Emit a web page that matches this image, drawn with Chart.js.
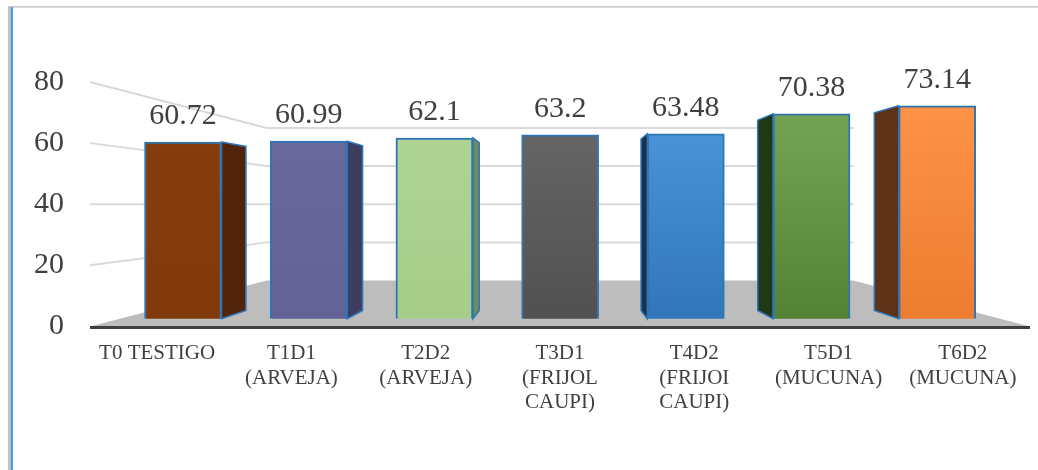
<!DOCTYPE html>
<html>
<head>
<meta charset="utf-8">
<script src="https://cdn.jsdelivr.net/npm/chart.js@4.4.1/dist/chart.umd.min.js"></script>
<style>
  html, body { margin: 0; padding: 0; background: #ffffff; }
  #wrap { position: relative; width: 1038px; height: 470px; }
</style>
</head>
<body>
<div id="wrap"><canvas id="c" width="1038" height="470"></canvas></div>
<script>
// ---- data ----
const categories = [
  "T0 TESTIGO",
  ["T1D1", "(ARVEJA)"],
  ["T2D2", "(ARVEJA)"],
  ["T3D1", "(FRIJOL", "CAUPI)"],
  ["T4D2", "(FRIJOI", "CAUPI)"],
  ["T5D1", "(MUCUNA)"],
  ["T6D2", "(MUCUNA)"]
];
const values = [60.72, 60.99, 62.1, 63.2, 63.48, 70.38, 73.14];
const yTickValues = [0, 20, 40, 60, 80];

// ---- styles ----
const frontTop    = ["#853d0d", "#6a6a9e", "#afd594", "#676767", "#4f95db", "#74a453", "#fb9246"];
const frontBottom = ["#803a0b", "#626294", "#a5cd89", "#505050", "#2f75b8", "#538134", "#ec7b2f"];
const sideColors  = ["#52250a", "#3d3d60", "#6f8b5b", "#333333", "#17324d", "#213815", "#5e3217"];
const outline = "#2e75b6";
const VP_INDEX = 3;      // bar index at the vanishing point (x)
const VP_VALUE = 40;     // tick value at the vanishing point (y)
const SIDE_DEPTH = 0.072;
const FLOOR_DEPTH = 0.376;

const frame = {
  id: 'frame',
  beforeDraw(chart) {
    const ctx = chart.ctx;
    ctx.save();
    ctx.fillStyle = '#c6c9ce';
    ctx.fillRect(8, 6, 1030, 1.6);
    ctx.fillStyle = '#c4c4c4';
    ctx.fillRect(8, 6, 2.5, 464);
    ctx.fillStyle = '#5b9bd5';
    ctx.fillRect(10.5, 7, 2.5, 463);
    ctx.restore();
  }
};

const scene3d = {
  id: 'scene3d',
  beforeDatasetsDraw(chart) {
    const ctx = chart.ctx;
    const a = chart.chartArea;
    const yT = chart.scales.y;
    const xb = chart.scales.xb;
    const vpx = xb.getPixelForValue(VP_INDEX);
    const vpy = yT.getPixelForValue(VP_VALUE);
    const L = a.left, R = a.right;
    const backL = L + FLOOR_DEPTH * (vpx - L);
    const backR = R + FLOOR_DEPTH * (vpx - R);
    ctx.save();
    // floor
    const y0 = yT.getPixelForValue(0);
    const y0b = y0 + FLOOR_DEPTH * (vpy - y0);
    ctx.fillStyle = '#bdbdbd';
    ctx.beginPath();
    ctx.moveTo(L, y0);
    ctx.lineTo(backL, y0b);
    ctx.lineTo(backR, y0b);
    ctx.lineTo(R, y0);
    ctx.closePath();
    ctx.fill();
    // walls gridlines
    ctx.strokeStyle = '#d9d9d9';
    ctx.lineWidth = 2;
    yTickValues.forEach(v => {
      if (v === 0) return;
      const yf = yT.getPixelForValue(v);
      const yb = yf + FLOOR_DEPTH * (vpy - yf);
      ctx.beginPath();
      ctx.moveTo(L, yf);
      ctx.lineTo(backL, yb);
      ctx.lineTo(backR, yb);
      ctx.stroke();
    });
    // bar side faces
    const meta = chart.getDatasetMeta(0);
    meta.data.forEach((bar, i) => {
      const p = bar.getProps(['x', 'y', 'base', 'width'], true);
      const x1 = p.x - p.width / 2, x2 = p.x + p.width / 2;
      let ex;
      if (x2 < vpx) ex = x2; else if (x1 > vpx) ex = x1; else return;
      const top = p.y, bot = p.base;
      const bx = ex + SIDE_DEPTH * (vpx - ex);
      const bt = top + SIDE_DEPTH * (vpy - top);
      const bb = bot + SIDE_DEPTH * (vpy - bot);
      ctx.fillStyle = sideColors[i];
      ctx.strokeStyle = outline;
      ctx.lineWidth = 1.5;
      ctx.beginPath();
      ctx.moveTo(ex, top);
      ctx.lineTo(bx, bt);
      ctx.lineTo(bx, bb);
      ctx.lineTo(ex, bot);
      ctx.closePath();
      ctx.fill();
      ctx.stroke();
    });
    ctx.restore();
  },
  afterDatasetsDraw(chart) {
    const ctx = chart.ctx;
    const a = chart.chartArea;
    const yT = chart.scales.y;
    ctx.save();
    // axis line
    const y0 = yT.getPixelForValue(0);
    ctx.strokeStyle = '#404040';
    ctx.lineWidth = 3;
    ctx.beginPath();
    ctx.moveTo(a.left, y0 + 1);
    ctx.lineTo(a.right, y0 + 1);
    ctx.stroke();
    // value labels
    ctx.fillStyle = '#404040';
    ctx.font = '30px "Liberation Serif", "Times New Roman", serif';
    ctx.textAlign = 'center';
    ctx.textBaseline = 'alphabetic';
    const meta = chart.getDatasetMeta(0);
    meta.data.forEach((bar, i) => {
      const p = bar.getProps(['x', 'y'], true);
      ctx.fillText(String(values[i]), p.x, p.y - 18);
    });
    ctx.restore();
  }
};

function frontFill(c) {
  const i = c.dataIndex;
  const chart = c.chart;
  const a = chart.chartArea;
  if (!a || i === undefined) return frontTop[i || 0];
  const g = chart.ctx.createLinearGradient(0, a.top + 30, 0, a.bottom);
  g.addColorStop(0, frontTop[i]);
  g.addColorStop(1, frontBottom[i]);
  return g;
}

new Chart(document.getElementById('c'), {
  type: 'bar',
  data: {
    labels: categories,
    datasets: [{
      data: values.map((v, i) => ({ x: i, y: v })),
      xAxisID: 'xb',
      yAxisID: 'yb',
      backgroundColor: frontFill,
      borderColor: outline,
      borderWidth: 2,
      barThickness: 77
    }]
  },
  options: {
    responsive: false,
    animation: false,
    events: [],
    layout: { padding: { left: 8, right: 8, top: 82, bottom: 40 } },
    plugins: { legend: { display: false }, tooltip: { enabled: false } },
    scales: {
      x: {
        type: 'category',
        position: 'bottom',
        offset: true,
        grid: { display: false, drawTicks: false },
        border: { display: false },
        ticks: {
          color: '#404040',
          padding: 15,
          maxRotation: 0,
          autoSkip: false,
          font: { family: '"Liberation Serif", "Times New Roman", serif', size: 21, lineHeight: 1.167 }
        }
      },
      xb: {
        type: 'linear',
        display: false,
        offset: false,
        min: -0.74,
        max: 6.738
      },
      y: {
        type: 'linear',
        position: 'left',
        min: 0,
        max: 80,
        grid: { display: false, drawTicks: false },
        border: { display: false },
        ticks: {
          stepSize: 20,
          color: '#404040',
          padding: 26,
          font: { family: '"Liberation Serif", "Times New Roman", serif', size: 30 }
        }
      },
      yb: {
        type: 'linear',
        display: false,
        min: -2.65,
        max: 81.32
      }
    }
  },
  plugins: [frame, scene3d]
});
</script>
</body>
</html>
